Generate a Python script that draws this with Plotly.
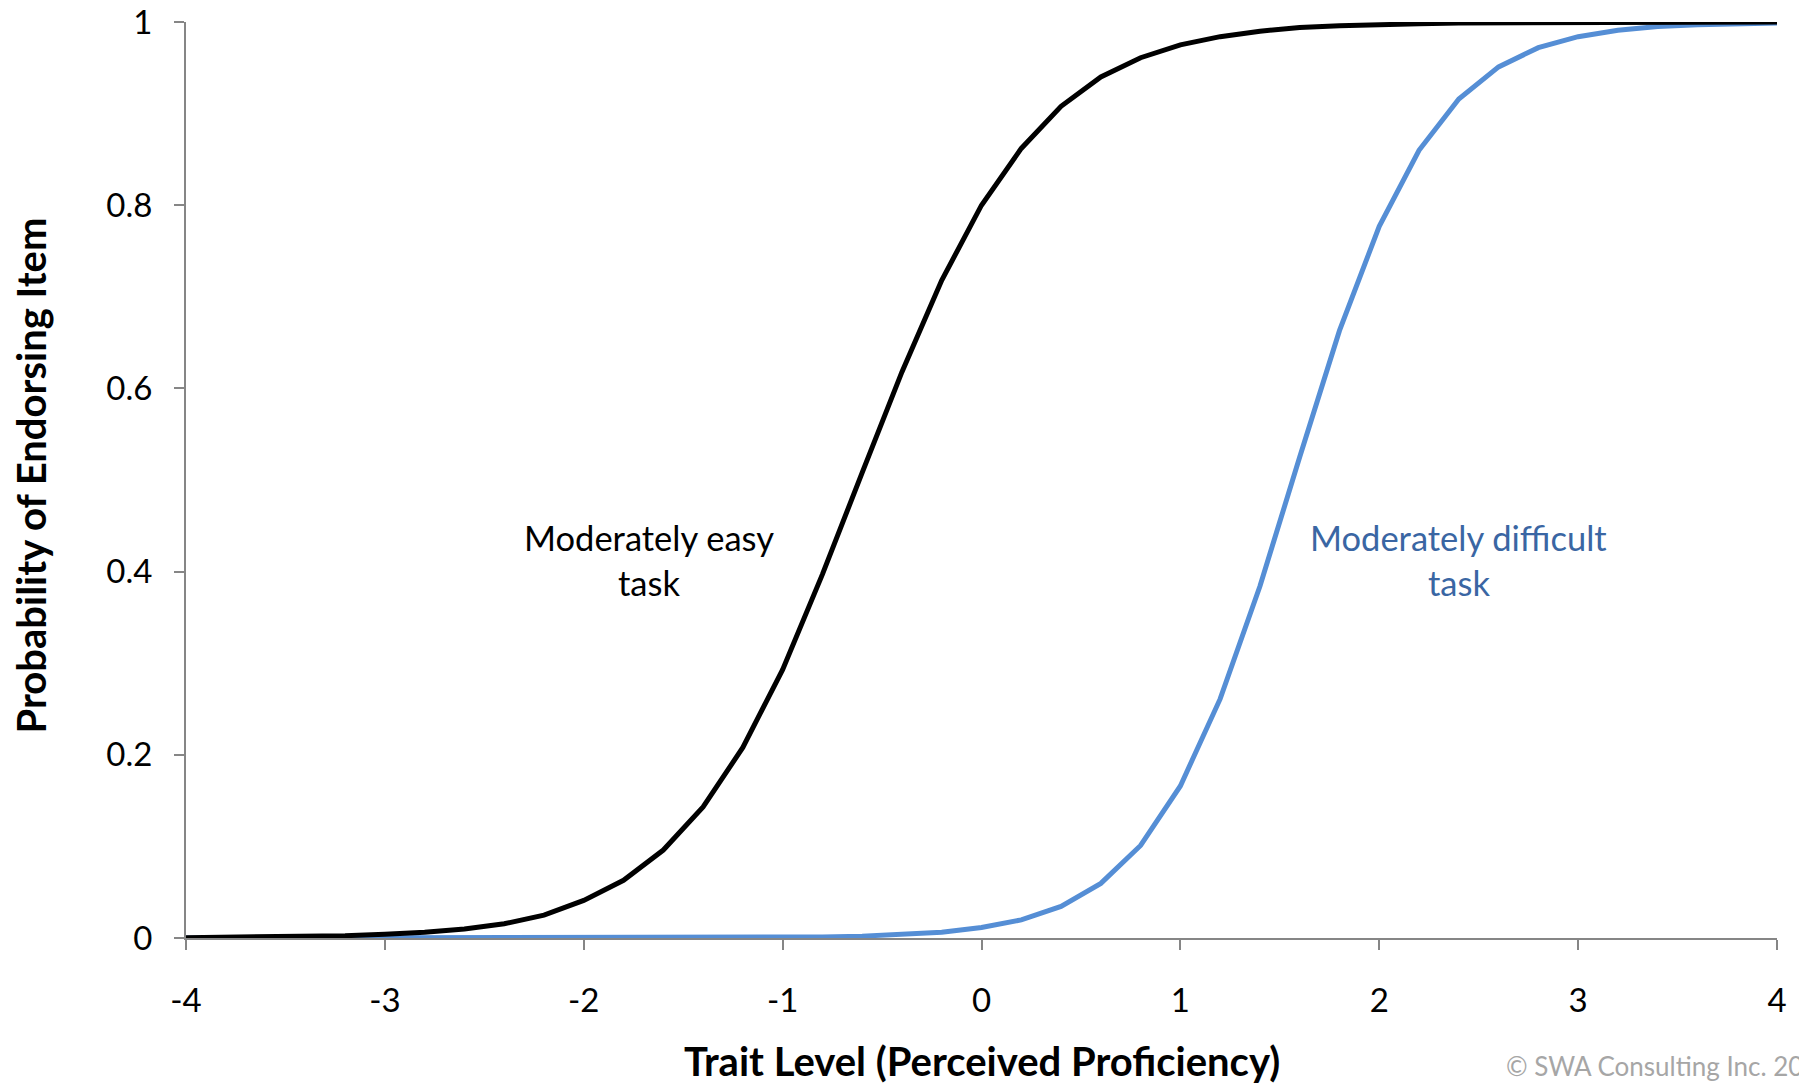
import plotly.graph_objects as go

# trait levels, step 0.2 from -4 to 4
theta = [round(-4 + 0.2 * i, 1) for i in range(41)]

easy_prob = [0.0004, 0.0006, 0.001, 0.0015, 0.0025, 0.004, 0.0062, 0.0098, 0.0155, 0.025,
             0.041, 0.063, 0.096, 0.143, 0.208, 0.293, 0.397, 0.508, 0.618, 0.718,
             0.800, 0.862, 0.908, 0.940, 0.961, 0.975, 0.984, 0.990, 0.994, 0.996,
             0.9975, 0.998, 0.999, 0.999, 0.9995, 0.9995, 1.0, 1.0, 1.0, 1.0, 1.0]

difficult_prob = [0.0, 0.0, 0.0, 0.0, 0.0, 0.0, 0.0, 0.0, 0.0, 0.0001,
                  0.0001, 0.0001, 0.0001, 0.0002, 0.0004, 0.0007, 0.0012, 0.002, 0.0036, 0.0064,
                  0.0115, 0.0198, 0.0345, 0.0596, 0.101, 0.166, 0.261, 0.384, 0.525, 0.663,
                  0.777, 0.860, 0.916, 0.951, 0.972, 0.984, 0.991, 0.995, 0.997, 0.998, 0.999]

x_ticks = [-4, -3, -2, -1, 0, 1, 2, 3, 4]
x_tick_text = ["-4", "-3", "-2", "-1", "0", "1", "2", "3", "4"]
y_ticks = [0, 0.2, 0.4, 0.6, 0.8, 1]
y_tick_text = ["0", "0.2", "0.4", "0.6", "0.8", "1"]

FONT = "Lato, Carlito, Calibri, sans-serif"
AXIS_GRAY = "#868686"

fig = go.Figure()
fig.add_trace(go.Scatter(x=theta, y=difficult_prob, mode="lines", name="Moderately difficult task",
                         line=dict(color="#558ED5", width=5)))
fig.add_trace(go.Scatter(x=theta, y=easy_prob, mode="lines", name="Moderately easy task",
                         line=dict(color="#000000", width=5)))

# curve labels
fig.add_annotation(x=-1.67, y=0.437, text="Moderately easy", showarrow=False,
                   font=dict(family=FONT, size=34.5, color="#000000"))
fig.add_annotation(x=-1.67, y=0.388, text="task", showarrow=False,
                   font=dict(family=FONT, size=34.5, color="#000000"))
fig.add_annotation(x=2.40, y=0.437, text="Moderately difficult", showarrow=False,
                   font=dict(family=FONT, size=34.5, color="#3A66A3"))
fig.add_annotation(x=2.40, y=0.388, text="task", showarrow=False,
                   font=dict(family=FONT, size=34.5, color="#3A66A3"))

# axis titles
fig.add_annotation(xref="paper", yref="paper", x=0.5, y=-0.1345, yanchor="middle",
                   text="<b>Trait Level (Perceived Proficiency)</b>", showarrow=False,
                   font=dict(family=FONT, size=40, color="#000000"))
fig.add_annotation(xref="paper", yref="paper", x=-0.0974, y=0.505, xanchor="center",
                   text="<b>Probability of Endorsing Item</b>", textangle=-90, showarrow=False,
                   font=dict(family=FONT, size=40, color="#000000"))
fig.add_annotation(xref="paper", yref="paper", x=0.8284, y=-0.1397, xanchor="left", yanchor="middle",
                   text="© SWA Consulting Inc. 2016", showarrow=False,
                   font=dict(family=FONT, size=26, color="#A6A6A6"))

fig.update_xaxes(range=[-4, 4], tickvals=x_ticks, ticktext=x_tick_text, showgrid=False, zeroline=False,
                 showline=True, linecolor=AXIS_GRAY, linewidth=2, automargin=False,
                 ticks="outside", ticklen=10, tickwidth=2, tickcolor=AXIS_GRAY,
                 ticklabelstandoff=22, tickfont=dict(family=FONT, size=33, color="#000000"))
fig.update_yaxes(range=[0, 1], tickvals=y_ticks, ticktext=y_tick_text, showgrid=False, zeroline=False,
                 showline=True, linecolor=AXIS_GRAY, linewidth=2, automargin=False,
                 ticks="outside", ticklen=10, tickwidth=2, tickcolor=AXIS_GRAY,
                 ticklabelstandoff=15, tickfont=dict(family=FONT, size=33, color="#000000"))

fig.update_layout(width=1799, height=1087, showlegend=False,
                  margin=dict(l=186, r=22, t=22, b=149),
                  paper_bgcolor="white", plot_bgcolor="white",
                  font=dict(family=FONT))

fig.write_html("out.html", config={"displayModeBar": False},
               post_script="document.body.style.margin='0px';")
